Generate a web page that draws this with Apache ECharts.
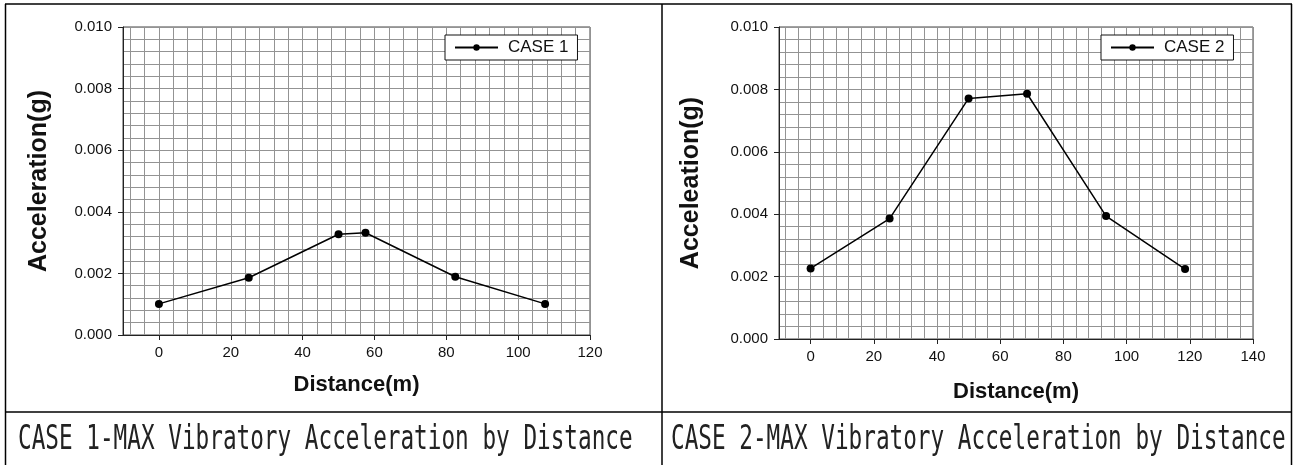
<!DOCTYPE html>
<html>
<head>
<meta charset="utf-8">
<script src="https://cdn.jsdelivr.net/npm/echarts@6/dist/echarts.min.js"></script>
<style>
  html, body { margin: 0; padding: 0; background: #fff; }
  #main { width: 1293px; height: 465px; }
</style>
</head>
<body>
<div id="main"></div>
<script>
// values
const case1Distance = [0, 25, 50, 57.5, 82.5, 107.5]
const case1Accel = [0.00101, 0.00186, 0.00327, 0.00332, 0.00189, 0.00101]
const case2Distance = [0, 25, 50, 68.5, 93.5, 118.5]
const case2Accel = [0.00226, 0.00386, 0.00771, 0.00786, 0.00394, 0.00224]

const seriesNames = ['CASE 1', 'CASE 2']
const yAxisNames = ['Acceleration(g)', 'Acceleation(g)']
const xAxisName = 'Distance(m)'
const captions = [
  'CASE 1-MAX Vibratory Acceleration by Distance',
  'CASE 2-MAX Vibratory Acceleration by Distance'
]
const xRanges = [[-10, 120], [-10, 140]]
const yRange = [0, 0.01]
const yStep = 0.002

const font = 'Liberation Sans'
const gridColor = '#939393'
const inkColor = '#111'

const chart = echarts.init(document.getElementById('main'))

const grids = [
  { left: 123, top: 27, width: 467, height: 308 },
  { left: 779, top: 27, width: 474, height: 312 }
]

function xAxisFor(i) {
  return {
    type: 'value',
    gridIndex: i,
    min: xRanges[i][0],
    max: xRanges[i][1],
    splitNumber: 7,
    name: xAxisName,
    nameLocation: 'middle',
    nameGap: i === 0 ? 39 : 42,
    nameTextStyle: { fontFamily: font, fontWeight: 'bold', fontSize: 22, color: inkColor },
    axisLine: { show: true, onZero: false, lineStyle: { color: '#222', width: 1 } },
    axisTick: { show: true, length: 5, lineStyle: { color: '#222' } },
    axisLabel: { showMinLabel: false, margin: 10, color: inkColor, fontSize: 15, fontFamily: font },
    splitLine: { show: true, lineStyle: { color: gridColor, width: 1 } },
    minorTick: { show: false, splitNumber: 5 },
    minorSplitLine: { show: true, lineStyle: { color: gridColor, width: 1 } }
  }
}

function yAxisFor(i) {
  return {
    type: 'value',
    gridIndex: i,
    min: yRange[0],
    max: yRange[1],
    interval: yStep,
    name: yAxisNames[i],
    nameLocation: 'middle',
    nameGap: i === 0 ? 71 : 75,
    nameTextStyle: { fontFamily: font, fontWeight: 'bold', fontSize: 25, color: inkColor },
    axisLine: { show: true, onZero: false, lineStyle: { color: '#222', width: 1 } },
    axisTick: { show: true, length: 5, lineStyle: { color: '#222' } },
    axisLabel: {
      margin: 11,
      color: inkColor,
      fontSize: 15,
      fontFamily: font,
      formatter: function(v) { return v.toFixed(3) }
    },
    splitLine: { show: true, lineStyle: { color: gridColor, width: 1 } },
    minorTick: { show: false, splitNumber: 5 },
    minorSplitLine: { show: true, lineStyle: { color: gridColor, width: 1 } }
  }
}

function legendFor(i, left) {
  return {
    data: [seriesNames[i]],
    left: left,
    top: 35,
    orient: 'horizontal',
    backgroundColor: '#fff',
    borderColor: inkColor,
    borderWidth: 1,
    borderRadius: 0,
    padding: [4, 9, 4, 9],
    itemWidth: 43,
    itemHeight: 8,
    textStyle: { fontFamily: font, fontSize: 17, color: inkColor, padding: [0, 0, 0, 5] }
  }
}

function lineSeries(i, xs, ys) {
  return {
    name: seriesNames[i],
    type: 'line',
    xAxisIndex: i,
    yAxisIndex: i,
    data: xs.map(function(d, k) { return [d, ys[k]] }),
    symbol: 'circle',
    symbolSize: 8,
    lineStyle: { color: '#000', width: 1.5 },
    itemStyle: { color: '#000' },
    z: 5
  }
}

function hLine(x1, x2, y) {
  return { type: 'line', shape: { x1: x1, y1: y, x2: x2, y2: y }, style: { stroke: '#000', lineWidth: 1.5 }, silent: true }
}
function vLine(x, y1, y2) {
  return { type: 'line', shape: { x1: x, y1: y1, x2: x, y2: y2 }, style: { stroke: '#000', lineWidth: 1.5 }, silent: true }
}
function caption(i, x) {
  return {
    type: 'text',
    x: x,
    y: 440,
    scaleY: 1.45,
    silent: true,
    style: {
      text: captions[i],
      font: '22.7px "DejaVu Sans Mono"',
      fill: '#222',
      align: 'left',
      verticalAlign: 'middle'
    }
  }
}

const option = {
  animation: false,
  backgroundColor: '#fff',
  grid: grids.map(function(g) {
    return Object.assign({ show: true, borderColor: '#444', borderWidth: 1, backgroundColor: 'transparent' }, g)
  }),
  xAxis: [xAxisFor(0), xAxisFor(1)],
  yAxis: [yAxisFor(0), yAxisFor(1)],
  legend: [legendFor(0, 445), legendFor(1, 1101)],
  series: [
    lineSeries(0, case1Distance, case1Accel),
    lineSeries(1, case2Distance, case2Accel)
  ],
  graphic: [
    hLine(5, 1292, 4),
    hLine(5, 1292, 412),
    vLine(5.5, 4, 465),
    vLine(662, 4, 465),
    vLine(1291.5, 4, 465),
    caption(0, 18),
    caption(1, 671)
  ]
}

chart.setOption(option)
</script>
</body>
</html>
